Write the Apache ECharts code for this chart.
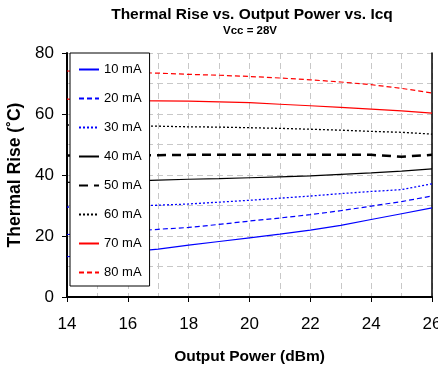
<!DOCTYPE html>
<html>
<head>
<meta charset="utf-8">
<script src="https://cdn.jsdelivr.net/npm/echarts@6/dist/echarts.min.js"></script>
<style>
  html, body { margin: 0; padding: 0; background: #fff; }
  #chart { width: 438px; height: 370px; }
</style>
</head>
<body>
<div id="chart"></div>
<script>
// output power (dBm)
const power = [14, 15, 16, 17, 18, 19, 20, 21, 22, 23, 24, 25, 26];

// thermal rise (°C) per Icq
const rise10 = [13.2, 14.0, 14.8, 15.7, 17.0, 18.2, 19.4, 20.6, 21.9, 23.5, 25.4, 27.3, 29.2];
const rise20 = [20.5, 21.0, 21.5, 22.2, 22.8, 23.8, 24.9, 25.9, 27.0, 28.3, 29.8, 31.3, 33.1];
const rise30 = [29.5, 29.6, 29.8, 30.1, 30.5, 31.1, 31.7, 32.4, 33.1, 33.9, 34.6, 35.2, 37.1];
const rise40 = [37.6, 37.8, 38.0, 38.3, 38.6, 38.8, 39.1, 39.4, 39.7, 40.2, 40.7, 41.3, 42.0];
const rise50 = [46.4, 46.4, 46.5, 46.5, 46.6, 46.6, 46.6, 46.6, 46.6, 46.6, 46.6, 46.0, 46.6];
const rise60 = [56.4, 56.3, 56.2, 56.0, 55.8, 55.7, 55.5, 55.3, 55.0, 54.7, 54.3, 54.0, 53.4];
const rise70 = [64.9, 64.6, 64.4, 64.3, 64.2, 64.0, 63.7, 63.2, 62.7, 62.2, 61.6, 61.0, 60.3];
const rise80 = [74.1, 73.8, 73.6, 73.4, 73.0, 72.7, 72.3, 71.8, 71.2, 70.5, 69.6, 68.4, 66.9];

const seriesNames = ['10 mA', '20 mA', '30 mA', '40 mA', '50 mA', '60 mA', '70 mA', '80 mA'];
const seriesValues = [rise10, rise20, rise30, rise40, rise50, rise60, rise70, rise80];

// line look per series: colour, width, dash
const looks = [
  { color: '#0000ff', width: 1.2, type: 'solid' },
  { color: '#0000ff', width: 1.2, type: [5, 3] },
  { color: '#0000ff', width: 1.3, type: [2, 2] },
  { color: '#000000', width: 1.2, type: 'solid' },
  { color: '#000000', width: 2.5, type: [9, 6] },
  { color: '#000000', width: 1.3, type: [2, 2] },
  { color: '#ff0000', width: 1.2, type: 'solid' },
  { color: '#ff0000', width: 1.2, type: [5, 3] }
];

const gridDash = { color: '#c8c8c8', width: 1, type: [6, 4] };

// plain frame axes for the top and right edges
const frameAxis = {
  type: 'value',
  axisLine: { show: true, lineStyle: { color: '#000', width: 1.5 } },
  axisTick: { show: false },
  axisLabel: { show: false },
  splitLine: { show: false }
};

const chart = echarts.init(document.getElementById('chart'), null, { renderer: 'canvas' });

chart.setOption({
  animation: false,
  textStyle: { fontFamily: 'Liberation Sans, Arial, sans-serif', color: '#000' },
  graphic: [
    {
      type: 'text', x: 252, y: 15,
      style: {
        text: 'Thermal Rise vs. Output Power vs. Icq',
        font: 'bold 15.5px "Liberation Sans", Arial, sans-serif',
        fill: '#000', align: 'center', verticalAlign: 'middle'
      }
    },
    {
      type: 'text', x: 250, y: 31,
      style: {
        text: 'Vcc = 28V',
        font: 'bold 11.5px "Liberation Sans", Arial, sans-serif',
        fill: '#000', align: 'center', verticalAlign: 'middle'
      }
    }
  ],
  grid: {
    left: 67, right: 6, top: 53, bottom: 73,
    outerBoundsMode: 'none'
  },
  legend: {
    orient: 'vertical',
    left: 70, top: 53,
    padding: [10, 8, 7, 8],
    backgroundColor: '#fff',
    borderColor: '#000',
    borderWidth: 1,
    itemWidth: 20,
    itemHeight: 14,
    itemGap: 16,
    itemStyle: { opacity: 0 },
    textStyle: { fontSize: 13, color: '#000', fontFamily: 'Liberation Sans, Arial, sans-serif' },
    data: seriesNames
  },
  xAxis: [
    {
      type: 'value',
      min: 14, max: 26, interval: 2,
      name: 'Output Power (dBm)',
      nameLocation: 'middle',
      nameGap: 52,
      nameTextStyle: { fontSize: 15.5, fontWeight: 'bold', color: '#000' },
      axisLine: { show: true, lineStyle: { color: '#000', width: 2 } },
      axisTick: { show: true, inside: false, length: 5, lineStyle: { color: '#000' } },
      axisLabel: { fontSize: 17, color: '#000', margin: 19 },
      splitLine: { show: true, lineStyle: gridDash },
      minorTick: { show: false, splitNumber: 2 },
      minorSplitLine: { show: true, lineStyle: gridDash }
    },
    Object.assign({ position: 'top', min: 14, max: 26 }, frameAxis)
  ],
  yAxis: [
    {
      type: 'value',
      min: 0, max: 80, interval: 20,
      name: 'Thermal Rise (˚C)',
      nameLocation: 'middle',
      nameGap: 31,
      nameTextStyle: { fontSize: 17.5, fontWeight: 'bold', color: '#000' },
      axisLine: { show: true, lineStyle: { color: '#000', width: 2 } },
      axisTick: { show: true, inside: false, length: 5, lineStyle: { color: '#000' } },
      axisLabel: { fontSize: 17, color: '#000', margin: 13 },
      splitLine: { show: true, lineStyle: gridDash },
      minorTick: { show: false, splitNumber: 2 },
      minorSplitLine: { show: true, lineStyle: gridDash }
    },
    Object.assign({ position: 'right', min: 0, max: 80 }, frameAxis)
  ],
  series: seriesNames.map((name, i) => ({
    name,
    type: 'line',
    symbol: 'none',
    showSymbol: false,
    smooth: false,
    lineStyle: looks[i],
    itemStyle: { color: looks[i].color },
    data: power.map((p, j) => [p, seriesValues[i][j]])
  }))
});
</script>
</body>
</html>
